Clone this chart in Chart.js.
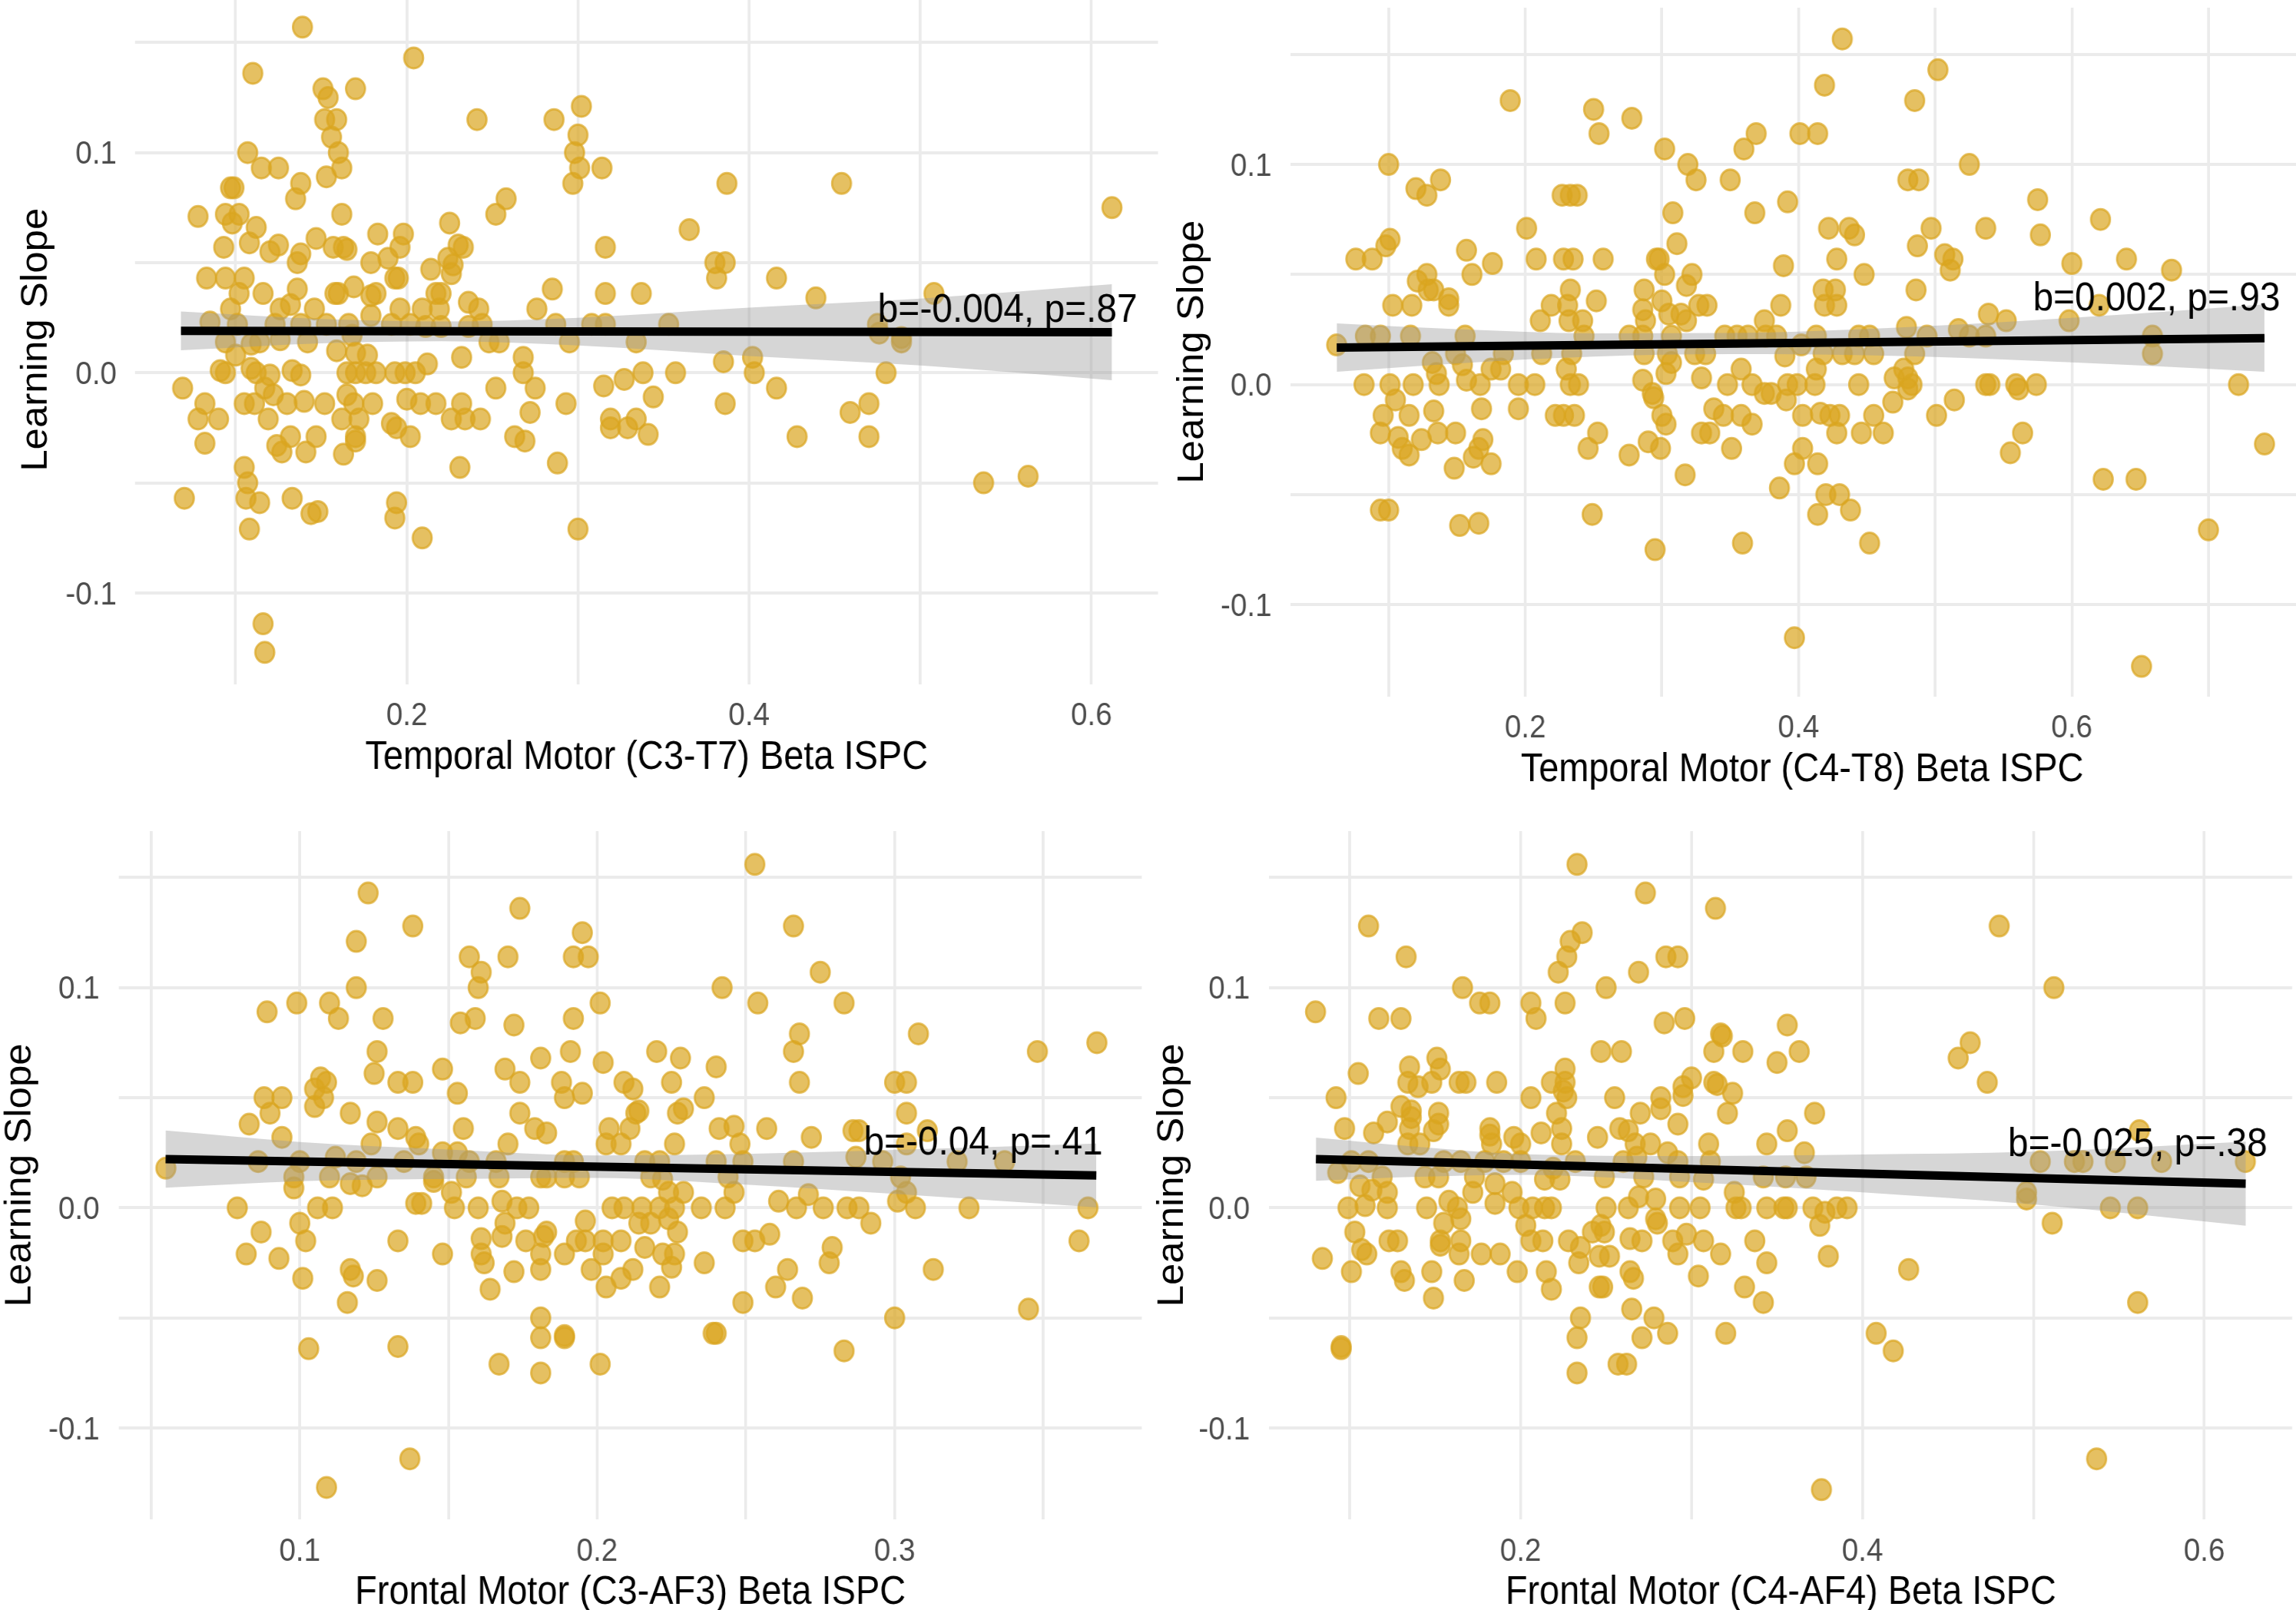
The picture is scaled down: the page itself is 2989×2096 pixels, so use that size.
<!DOCTYPE html>
<html>
<head>
<meta charset="utf-8">
<script src="https://cdn.jsdelivr.net/npm/chart.js@4.4.1/dist/chart.umd.min.js"></script>
<style>
html,body{margin:0;padding:0;background:#fff;overflow:hidden;width:2989px;height:2096px;position:relative;}
canvas{position:absolute;transform-origin:0 0;}
</style>
</head>
<body>
<canvas id="c1"></canvas>
<canvas id="c2"></canvas>
<canvas id="c3"></canvas>
<canvas id="c4"></canvas>
<script>
// ---------------- DATA ----------------
const yTitle = 'Learning Slope';
const xTitles = ['Temporal Motor (C3-T7) Beta ISPC','Temporal Motor (C4-T8) Beta ISPC','Frontal Motor (C3-AF3) Beta ISPC','Frontal Motor (C4-AF4) Beta ISPC'];
const annotTexts = ['b=-0.004, p=.87','b=0.002, p=.93','b=-0.04, p=.41','b=-0.025, p=.38'];
const annotX = [0.551, 0.662, 0.3298, 0.561];
const annotY = [0.029, 0.0395, 0.0298, 0.0291];

const yGrid = [-0.1,-0.05,0,0.05,0.1,0.15];
const yTickVals = [-0.1,0,0.1];
const yTickText = ['-0.1','0.0','0.1'];
const xGrid1 = [0.1,0.2,0.3,0.4,0.5,0.6];
const xGrid2 = [0.1,0.2,0.3,0.4,0.5,0.6,0.7];
const xGrid3 = [0.05,0.1,0.15,0.2,0.25,0.3,0.35];
const xGrid4 = [0.1,0.2,0.3,0.4,0.5,0.6];
const xTickVals124 = [0.2,0.4,0.6];
const xTickText124 = ['0.2','0.4','0.6'];
const xTickVals3 = [0.1,0.2,0.3];
const xTickText3 = ['0.1','0.2','0.3'];

const p1X = [0.139,0.110,0.204,0.151,0.154,0.170,0.152,0.159,0.156,0.160,
0.162,0.153,0.241,0.107,0.115,0.125,0.138,0.135,0.097,0.099,
0.162,0.078,0.094,0.102,0.098,0.112,0.093,0.108,0.120,0.125,
0.136,0.138,0.147,0.157,0.163,0.165,0.183,0.198,0.196,0.179,
0.189,0.225,0.258,0.252,0.233,0.230,0.224,0.227,0.226,0.214,
0.195,0.193,0.083,0.094,0.105,0.102,0.116,0.097,0.136,0.169,
0.158,0.160,0.179,0.182,0.217,0.220,0.236,0.242,0.126,0.132,
0.146,0.179,0.196,0.209,0.219,0.244,0.085,0.101,0.123,0.138,
0.153,0.166,0.191,0.202,0.211,0.220,0.236,0.094,0.109,0.114,
0.126,0.142,0.168,0.248,0.254,0.159,0.170,0.177,0.100,0.232,
0.268,0.212,0.091,0.094,0.109,0.112,0.120,0.133,0.138,0.165,
0.170,0.176,0.182,0.193,0.199,0.205,0.268,0.069,0.252,0.117,
0.122,0.082,0.105,0.111,0.130,0.140,0.152,0.165,0.169,0.180,
0.200,0.208,0.217,0.232,0.078,0.090,0.119,0.162,0.172,0.191,
0.194,0.226,0.234,0.243,0.263,0.269,0.082,0.132,0.147,0.124,
0.127,0.141,0.170,0.170,0.163,0.202,0.231,0.105,0.107,0.106,
0.114,0.133,0.144,0.148,0.070,0.194,0.193,0.108,0.209,0.116,
0.117,0.302,0.286,0.300,0.298,0.301,0.314,0.297,0.387,0.454,
0.612,0.365,0.316,0.380,0.386,0.381,0.416,0.439,0.508,0.285,
0.316,0.337,0.276,0.287,0.308,0.316,0.353,0.295,0.334,0.475,
0.476,0.489,0.489,0.402,0.385,0.403,0.480,0.338,0.357,0.275,
0.315,0.327,0.416,0.272,0.293,0.344,0.386,0.470,0.459,0.319,
0.319,0.334,0.329,0.341,0.288,0.428,0.470,0.537,0.563,0.300];
const p1Y = [0.157,0.136,0.143,0.129,0.125,0.129,0.115,0.115,0.107,0.100,
0.093,0.089,0.115,0.100,0.093,0.093,0.086,0.079,0.084,0.084,
0.072,0.071,0.072,0.072,0.068,0.066,0.057,0.059,0.055,0.058,
0.050,0.054,0.061,0.057,0.057,0.056,0.063,0.063,0.057,0.050,
0.052,0.068,0.079,0.072,0.057,0.058,0.052,0.049,0.045,0.047,
0.043,0.043,0.043,0.043,0.043,0.036,0.036,0.029,0.038,0.039,
0.036,0.036,0.035,0.036,0.036,0.036,0.032,0.029,0.029,0.031,
0.029,0.026,0.029,0.029,0.029,0.022,0.023,0.022,0.022,0.022,
0.022,0.022,0.022,0.022,0.021,0.021,0.021,0.014,0.013,0.014,
0.015,0.014,0.017,0.014,0.014,0.010,0.009,0.008,0.008,0.007,
0.007,0.004,0.001,0,0.002,0,-0.001,0.001,-0.001,0,
0,0,0,0,0,0,0,-0.007,-0.007,-0.007,
-0.010,-0.014,-0.014,-0.014,-0.014,-0.013,-0.014,-0.010,-0.014,-0.014,
-0.012,-0.014,-0.014,-0.014,-0.021,-0.021,-0.021,-0.021,-0.021,-0.023,
-0.025,-0.021,-0.021,-0.021,-0.029,-0.031,-0.032,-0.029,-0.029,-0.033,
-0.036,-0.036,-0.029,-0.031,-0.037,-0.029,-0.043,-0.043,-0.050,-0.057,
-0.059,-0.057,-0.064,-0.063,-0.057,-0.059,-0.066,-0.071,-0.075,-0.114,
-0.127,0.121,0.115,0.108,0.100,0.093,0.093,0.086,0.086,0.086,
0.075,0.065,0.057,0.050,0.050,0.043,0.043,0.034,0.036,0.038,
0.036,0.036,0.029,0.022,0.022,0.022,0.022,0.014,0.014,0.022,
0.018,0.016,0.014,0.007,0.005,0,0,0,0,-0.007,
-0.006,-0.003,-0.007,-0.018,-0.014,-0.011,-0.014,-0.014,-0.018,-0.021,
-0.025,-0.021,-0.025,-0.028,-0.041,-0.029,-0.029,-0.050,-0.047,-0.071];

const p2X = [0.189,0.250,0.254,0.278,0.302,0.319,0.325,0.350,0.360,0.369,
0.368,0.308,0.311,0.100,0.120,0.128,0.138,0.227,0.233,0.238,
0.201,0.076,0.088,0.098,0.101,0.157,0.161,0.176,0.128,0.121,
0.129,0.133,0.144,0.144,0.103,0.117,0.208,0.228,0.235,0.257,
0.296,0.298,0.302,0.322,0.318,0.233,0.252,0.219,0.231,0.211,
0.232,0.242,0.287,0.286,0.288,0.300,0.305,0.314,0.327,0.333,
0.318,0.375,0.062,0.083,0.094,0.116,0.156,0.243,0.276,0.286,
0.307,0.346,0.355,0.363,0.132,0.149,0.154,0.184,0.212,0.234,
0.287,0.304,0.324,0.332,0.307,0.135,0.137,0.175,0.182,0.230,
0.303,0.358,0.329,0.082,0.101,0.118,0.157,0.167,0.195,0.207,
0.233,0.239,0.286,0.348,0.366,0.375,0.105,0.115,0.096,0.133,
0.168,0.195,0.222,0.228,0.236,0.294,0.293,0.300,0.303,0.338,
0.345,0.358,0.366,0.094,0.107,0.124,0.136,0.149,0.110,0.115,
0.169,0.166,0.162,0.175,0.148,0.253,0.246,0.276,0.290,0.299,
0.317,0.329,0.335,0.351,0.094,0.100,0.152,0.166,0.249,0.295,
0.359,0.432,0.419,0.502,0.485,0.401,0.414,0.525,0.480,0.488,
0.392,0.575,0.621,0.422,0.437,0.441,0.497,0.537,0.577,0.487,
0.507,0.513,0.511,0.389,0.428,0.448,0.600,0.640,0.673,0.418,
0.427,0.419,0.428,0.486,0.387,0.539,0.552,0.598,0.620,0.659,
0.659,0.376,0.384,0.402,0.413,0.444,0.452,0.479,0.494,0.517,
0.525,0.537,0.390,0.413,0.418,0.432,0.441,0.455,0.485,0.477,
0.392,0.399,0.412,0.444,0.470,0.480,0.483,0.537,0.540,0.559,
0.561,0.574,0.722,0.380,0.391,0.469,0.480,0.403,0.416,0.423,
0.430,0.428,0.446,0.455,0.462,0.501,0.514,0.564,0.555,0.741,
0.403,0.397,0.414,0.386,0.420,0.430,0.414,0.438,0.452,0.623,
0.647,0.700,0.397,0.651];
const p2Y = [0.129,0.125,0.114,0.121,0.107,0.100,0.093,0.093,0.107,0.114,
0.078,0.078,0.064,0.100,0.089,0.086,0.093,0.086,0.086,0.086,
0.071,0.057,0.057,0.063,0.066,0.061,0.050,0.055,0.050,0.047,
0.043,0.043,0.039,0.036,0.036,0.036,0.057,0.057,0.057,0.057,
0.057,0.057,0.050,0.050,0.045,0.043,0.038,0.036,0.036,0.029,
0.029,0.029,0.043,0.034,0.029,0.038,0.032,0.032,0.036,0.036,
0.029,0.029,0.018,0.022,0.022,0.022,0.022,0.022,0.022,0.022,
0.022,0.022,0.022,0.022,0.010,0.014,0.009,0.014,0.014,0.014,
0.014,0.014,0.014,0.014,0.010,0.005,0,0.007,0.007,0.007,
0.005,0.007,0.003,0,0,0,0.002,0,0,0,
0,0,0.002,0,0,-0.004,-0.007,-0.014,-0.014,-0.012,
-0.011,-0.011,-0.014,-0.014,-0.014,-0.006,-0.004,-0.014,-0.018,-0.011,
-0.014,-0.014,-0.018,-0.022,-0.024,-0.025,-0.022,-0.022,-0.029,-0.032,
-0.025,-0.029,-0.033,-0.036,-0.038,-0.022,-0.029,-0.032,-0.026,-0.029,
-0.041,-0.022,-0.022,-0.029,-0.057,-0.057,-0.064,-0.063,-0.059,-0.075,
-0.072,0.157,0.136,0.143,0.129,0.114,0.114,0.100,0.093,0.093,
0.083,0.084,0.075,0.071,0.071,0.068,0.071,0.071,0.068,0.063,
0.059,0.057,0.052,0.054,0.057,0.050,0.055,0.057,0.052,0.043,
0.043,0.036,0.036,0.043,0.036,0.032,0.029,0.029,0.036,0.022,
0.014,0.022,0.022,0.018,0.022,0.022,0.022,0.026,0.022,0.025,
0.022,0.022,0.013,0.007,0.014,0.014,0.014,0.014,0.014,0.007,
0,0,0,0,0.003,0.003,0,0,0,0,
-0.002,0,0,-0.004,-0.007,-0.008,-0.002,-0.014,-0.013,-0.014,
-0.014,-0.022,-0.022,-0.014,-0.022,-0.014,-0.007,-0.022,-0.031,-0.027,
-0.029,-0.036,-0.036,-0.047,-0.050,-0.050,-0.059,-0.057,-0.072,-0.043,
-0.043,-0.066,-0.115,-0.128];

const p3X = [0.123,0.138,0.174,0.119,0.157,0.161,0.160,0.170,0.119,0.089,
0.099,0.110,0.113,0.128,0.154,0.159,0.172,0.126,0.125,0.181,
0.107,0.109,0.105,0.108,0.105,0.133,0.138,0.148,0.169,0.174,
0.153,0.088,0.094,0.090,0.083,0.094,0.117,0.126,0.133,0.139,
0.140,0.155,0.174,0.179,0.170,0.124,0.055,0.086,0.100,0.112,
0.119,0.135,0.148,0.153,0.157,0.166,0.098,0.098,0.110,0.126,
0.117,0.121,0.145,0.145,0.156,0.167,0.181,0.151,0.079,0.106,
0.111,0.139,0.141,0.152,0.160,0.168,0.173,0.177,0.169,0.168,
0.087,0.100,0.102,0.133,0.161,0.176,0.182,0.082,0.093,0.148,
0.161,0.162,0.181,0.101,0.117,0.118,0.126,0.172,0.164,0.181,
0.116,0.181,0.181,0.103,0.133,0.167,0.181,0.137,0.109,0.253,
0.266,0.195,0.192,0.197,0.275,0.242,0.201,0.254,0.283,0.192,
0.268,0.266,0.308,0.348,0.368,0.191,0.202,0.220,0.228,0.240,
0.225,0.268,0.300,0.304,0.188,0.189,0.195,0.209,0.212,0.236,
0.227,0.229,0.213,0.214,0.304,0.204,0.211,0.183,0.241,0.246,
0.257,0.272,0.286,0.288,0.311,0.203,0.208,0.226,0.248,0.304,
0.189,0.192,0.216,0.221,0.240,0.249,0.266,0.287,0.296,0.321,
0.337,0.183,0.189,0.194,0.218,0.222,0.244,0.302,0.304,0.224,
0.229,0.246,0.271,0.365,0.325,0.205,0.209,0.215,0.221,0.226,
0.235,0.243,0.261,0.267,0.276,0.284,0.288,0.301,0.307,0.214,
0.218,0.224,0.196,0.292,0.362,0.227,0.183,0.193,0.196,0.208,
0.202,0.249,0.253,0.258,0.216,0.189,0.202,0.222,0.226,0.279,
0.278,0.236,0.198,0.212,0.225,0.264,0.313,0.208,0.203,0.221,
0.260,0.249,0.269,0.300,0.345,0.189,0.189,0.239,0.240,0.283,
0.201];
const p3Y = [0.143,0.128,0.136,0.121,0.114,0.107,0.100,0.114,0.100,0.089,
0.093,0.093,0.086,0.086,0.084,0.086,0.083,0.071,0.061,0.068,
0.059,0.057,0.054,0.050,0.046,0.057,0.057,0.063,0.063,0.057,
0.052,0.050,0.050,0.043,0.038,0.032,0.043,0.039,0.036,0.032,
0.029,0.036,0.043,0.036,0.029,0.029,0.018,0.021,0.021,0.023,
0.021,0.021,0.025,0.025,0.021,0.021,0.014,0.009,0.014,0.014,
0.011,0.010,0.014,0.012,0.014,0.014,0.014,0.007,0,0,
0,0.002,0.002,0,0,0.003,0,0,-0.007,-0.013,
-0.011,-0.007,-0.015,-0.015,-0.014,-0.015,-0.013,-0.021,-0.023,-0.021,
-0.021,-0.025,-0.021,-0.032,-0.028,-0.031,-0.033,-0.029,-0.037,-0.028,
-0.043,-0.050,-0.059,-0.064,-0.063,-0.071,-0.075,-0.114,-0.127,0.156,
0.128,0.125,0.114,0.114,0.107,0.100,0.093,0.093,0.093,0.086,
0.079,0.071,0.079,0.071,0.075,0.071,0.066,0.071,0.068,0.064,
0.057,0.057,0.057,0.057,0.057,0.050,0.052,0.057,0.054,0.050,
0.043,0.045,0.043,0.044,0.043,0.036,0.036,0.034,0.036,0.037,
0.036,0.032,0.035,0.035,0.035,0.029,0.029,0.029,0.029,0.029,
0.021,0.021,0.021,0.021,0.021,0.021,0.021,0.023,0.021,0.021,
0.021,0.014,0.014,0.014,0.014,0.013,0.014,0.014,0.007,0.007,
0.007,0.007,0.006,0,0,0,0,0,0,0,
0,0,0.003,0,0,0,0,0.003,0,-0.007,
-0.007,-0.005,-0.006,-0.007,-0.015,-0.011,-0.011,-0.015,-0.015,-0.015,
-0.015,-0.015,-0.015,-0.012,-0.018,-0.021,-0.021,-0.021,-0.021,-0.018,
-0.025,-0.025,-0.028,-0.028,-0.027,-0.028,-0.028,-0.032,-0.036,-0.036,
-0.036,-0.043,-0.041,-0.050,-0.046,-0.058,-0.059,-0.057,-0.057,-0.065,
-0.071];

const p4X = [0.233,0.273,0.314,0.111,0.133,0.229,0.236,0.227,0.222,0.285,
0.292,0.269,0.166,0.176,0.182,0.206,0.209,0.226,0.250,0.080,
0.117,0.130,0.284,0.296,0.317,0.318,0.313,0.330,0.247,0.259,
0.135,0.151,0.153,0.105,0.134,0.140,0.148,0.164,0.168,0.186,
0.218,0.226,0.226,0.225,0.300,0.295,0.295,0.313,0.315,0.324,
0.092,0.206,0.227,0.255,0.282,0.282,0.130,0.136,0.136,0.122,
0.152,0.152,0.149,0.221,0.270,0.321,0.292,0.097,0.114,0.135,
0.182,0.182,0.183,0.196,0.200,0.212,0.224,0.224,0.245,0.258,
0.263,0.267,0.276,0.286,0.310,0.344,0.134,0.141,0.101,0.111,
0.155,0.165,0.179,0.190,0.200,0.219,0.232,0.260,0.268,0.292,
0.311,0.093,0.119,0.144,0.152,0.173,0.214,0.223,0.249,0.272,
0.293,0.307,0.342,0.106,0.113,0.122,0.172,0.185,0.185,0.195,
0.158,0.163,0.165,0.155,0.099,0.109,0.122,0.145,0.199,0.207,
0.214,0.218,0.250,0.263,0.279,0.269,0.293,0.305,0.326,0.329,
0.344,0.279,0.280,0.103,0.203,0.247,0.242,0.249,0.325,0.123,
0.128,0.153,0.153,0.165,0.206,0.213,0.228,0.235,0.264,0.271,
0.289,0.297,0.307,0.337,0.084,0.107,0.110,0.164,0.177,0.188,
0.246,0.252,0.292,0.317,0.344,0.101,0.130,0.132,0.148,0.167,
0.198,0.215,0.218,0.234,0.264,0.266,0.304,0.246,0.248,0.149,
0.331,0.342,0.235,0.233,0.265,0.278,0.271,0.286,0.320,0.095,
0.095,0.257,0.262,0.233,0.480,0.512,0.356,0.363,0.350,0.463,
0.456,0.473,0.372,0.356,0.366,0.355,0.367,0.562,0.504,0.524,
0.529,0.548,0.575,0.624,0.496,0.496,0.354,0.356,0.371,0.378,
0.385,0.391,0.375,0.545,0.561,0.511,0.380,0.427,0.561,0.408,
0.418,0.537,0.376];
const p4Y = [0.156,0.143,0.136,0.128,0.114,0.121,0.125,0.114,0.107,0.114,
0.114,0.107,0.100,0.093,0.093,0.093,0.086,0.093,0.100,0.089,
0.086,0.086,0.084,0.086,0.079,0.078,0.071,0.071,0.071,0.071,
0.064,0.068,0.063,0.061,0.057,0.055,0.057,0.057,0.057,0.057,
0.057,0.063,0.057,0.053,0.059,0.055,0.051,0.057,0.056,0.052,
0.050,0.050,0.050,0.050,0.050,0.045,0.046,0.044,0.041,0.039,
0.043,0.038,0.035,0.043,0.043,0.043,0.038,0.036,0.034,0.036,
0.036,0.033,0.029,0.032,0.029,0.034,0.036,0.029,0.032,0.036,
0.035,0.029,0.029,0.025,0.029,0.029,0.029,0.029,0.021,0.021,
0.021,0.021,0.021,0.021,0.021,0.018,0.021,0.021,0.023,0.021,
0.021,0.016,0.014,0.014,0.014,0.014,0.013,0.013,0.014,0.014,
0.014,0.013,0.014,0.010,0.008,0.007,0.007,0.011,0.002,0.007,
0.003,0,-0.005,-0.007,0,0.001,0,0,0,0,
0,0,0,0,0.004,0.005,0,0,0,0,
0,-0.005,-0.007,-0.011,-0.008,-0.008,-0.011,-0.011,0.007,-0.015,
-0.015,-0.015,-0.017,-0.015,-0.015,-0.015,-0.015,-0.018,-0.014,-0.015,
-0.015,-0.012,-0.015,-0.015,-0.023,-0.019,-0.021,-0.021,-0.021,-0.021,
-0.022,-0.022,-0.021,-0.021,-0.025,-0.029,-0.029,-0.033,-0.029,-0.033,
-0.029,-0.029,-0.037,-0.025,-0.029,-0.032,-0.031,-0.036,-0.036,-0.041,
-0.036,-0.043,-0.050,-0.059,-0.046,-0.050,-0.059,-0.057,-0.057,-0.063,
-0.064,-0.071,-0.071,-0.075,0.128,0.100,0.083,0.071,0.066,0.075,
0.068,0.057,0.043,0.035,0.025,0.014,0.014,0.035,0.021,0.021,
0.021,0.021,0.021,0.021,0.007,0.004,0,0,0,-0.002,
0,0,-0.008,0,0,-0.007,-0.022,-0.028,-0.043,-0.057,
-0.065,-0.114,-0.128];

// regression lines and confidence bands
const fit1X = [0.068, 0.612], fit1Y = [0.0190, 0.0184];
const band1X = [0.068,0.15,0.22,0.3,0.4,0.5,0.612];
const band1Hi = [0.0278,0.0244,0.0233,0.0250,0.0296,0.0337,0.0402];
const band1Lo = [0.0102,0.0134,0.0143,0.0124,0.0076,0.0033,-0.0034];

const fit2X = [0.062, 0.741], fit2Y = [0.0168, 0.0211];
const band2X = [0.062,0.15,0.25,0.35,0.45,0.55,0.65,0.741];
const band2Hi = [0.0278,0.0252,0.0233,0.0234,0.0253,0.0284,0.0323,0.0364];
const band2Lo = [0.0058,0.0096,0.0127,0.0138,0.0133,0.0114,0.0087,0.0058];

const fit3X = [0.0549, 0.3678], fit3Y = [0.0221, 0.0147];
const band3X = [0.0549,0.1,0.15,0.2,0.25,0.3,0.3678];
const band3Hi = [0.0351,0.0299,0.0265,0.0238,0.0245,0.0263,0.0292];
const band3Lo = [0.0091,0.0121,0.0131,0.0136,0.0105,0.0063,0.0002];

const fit4X = [0.0802, 0.6242], fit4Y = [0.0221, 0.0110];
const band4X = [0.0802,0.14,0.2,0.3,0.4,0.5,0.6242];
const band4Hi = [0.0319,0.0277,0.0244,0.0235,0.0242,0.0255,0.0301];
const band4Lo = [0.0123,0.0141,0.0150,0.0117,0.0070,0.0015,-0.0081];

// ---------------- RENDER ----------------
const S = 0.92;  // horizontal condensation of the reference rendering
const FONT = "'Liberation Sans', Arial, Helvetica, sans-serif";
const GRID = '#EBEBEB';
const TICK = 42, TITLE = 51, ANN = 52;

function labelFor(v, vals, texts) {
  for (let i = 0; i < vals.length; i++) if (Math.abs(vals[i] - v) < 1e-9) return texts[i];
  return '';
}
function pts(xs, ys) { return xs.map((x, i) => ({x: x, y: ys[i]})); }
function noPad(sc) { sc.paddingTop = 0; sc.paddingBottom = 0; sc.paddingLeft = 0; sc.paddingRight = 0; }

const annotPlugin = {
  id: 'annot',
  afterDatasetsDraw(chart, args, o) {
    const ctx = chart.ctx, sx = chart.scales.x, sy = chart.scales.y;
    ctx.save();
    ctx.font = o.size + 'px ' + FONT;
    ctx.fillStyle = '#000';
    ctx.textAlign = 'center';
    ctx.textBaseline = 'middle';
    ctx.fillText(o.text, sx.getPixelForValue(o.x), sy.getPixelForValue(o.y) + 2);
    ctx.restore();
  }
};

function makePanel(id, g, d) {
  const cv = document.getElementById(id);
  const W = Math.ceil((g.canvasRight - g.L) / S);
  const H = Math.ceil(g.xTitleCY - g.plotTop + 40);
  cv.width = W; cv.height = H;
  cv.style.left = g.L + 'px';
  cv.style.top = g.plotTop + 'px';
  cv.style.width = W + 'px';
  cv.style.height = H + 'px';
  cv.style.transform = 'scaleX(' + S + ')';
  const yW = (g.plotLeft - g.L) / S;
  const padRight = W - (g.plotRight - g.L) / S;
  const xH = H - (g.plotBottom - g.plotTop);

  new Chart(cv, {
    type: 'scatter',
    data: {
      datasets: [
        {type: 'scatter', data: pts(d.x, d.y), backgroundColor: 'rgba(218,165,32,0.7)',
         borderColor: 'rgba(218,165,32,0.7)', borderWidth: 3, pointRadius: 13.5, pointHoverRadius: 13.5, order: 3},
        {type: 'line', data: pts(d.bandX, d.bandHi), borderColor: 'rgba(0,0,0,0)', borderWidth: 0, pointRadius: 0,
         fill: '+1', backgroundColor: 'rgba(153,153,153,0.4)', cubicInterpolationMode: 'monotone', order: 2},
        {type: 'line', data: pts(d.bandX, d.bandLo), borderColor: 'rgba(0,0,0,0)', borderWidth: 0, pointRadius: 0,
         fill: false, cubicInterpolationMode: 'monotone', order: 2},
        {type: 'line', data: pts(d.fitX, d.fitY), borderColor: '#000', borderWidth: 11, pointRadius: 0,
         fill: false, borderCapStyle: 'butt', order: 1}
      ]
    },
    options: {
      responsive: false, animation: false, devicePixelRatio: 1, events: [],
      layout: {autoPadding: false, padding: {left: 0, top: 0, right: padRight, bottom: 0}},
      plugins: {legend: {display: false}, tooltip: {enabled: false},
        annot: {text: d.ann, x: d.annX, y: d.annY, size: ANN}},
      scales: {
        x: {
          type: 'linear', min: g.xMin, max: g.xMax,
          afterBuildTicks: ax => { ax.ticks = d.xGrid.map(v => ({value: v})); },
          afterFit: sc => { sc.height = xH; noPad(sc); },
          grid: {color: GRID, lineWidth: 4, drawTicks: false},
          border: {display: false},
          ticks: {autoSkip: false, maxRotation: 0, color: '#4D4D4D',
            padding: g.xTickCY - g.plotBottom - TICK * 1.2 / 2,
            font: {family: FONT, size: TICK},
            callback: v => labelFor(v, d.xTickVals, d.xTickText)},
          title: {display: true, text: d.xTitle, color: '#000', font: {family: FONT, size: TITLE},
            padding: {top: 0, bottom: H - (g.xTitleCY - g.plotTop) - TITLE * 1.2 / 2}}
        },
        y: {
          type: 'linear', min: g.yMin, max: g.yMax,
          afterBuildTicks: ax => { ax.ticks = yGrid.map(v => ({value: v})); },
          afterFit: sc => { sc.width = yW; noPad(sc); },
          grid: {color: GRID, lineWidth: 4, drawTicks: false},
          border: {display: false},
          ticks: {autoSkip: false, color: '#4D4D4D', labelOffset: 3,
            padding: (g.plotLeft - g.yTickRight) / S,
            font: {family: FONT, size: TICK},
            callback: v => labelFor(v, yTickVals, yTickText)},
          title: {display: true, text: yTitle, color: '#000', font: {family: FONT, size: TITLE},
            padding: {top: (g.yTitleCX - g.L) / S - TITLE * 1.2 / 2, bottom: 0}}
        }
      }
    },
    plugins: [annotPlugin]
  });
}

makePanel('c1',
  {L: 0, canvasRight: 1512, plotLeft: 175.8, plotRight: 1507.5, plotTop: -6.3, plotBottom: 890.3,
   yTitleCX: 47.6, yTickRight: 152, xTickCY: 932, xTitleCY: 987,
   xMin: 0.0412, xMax: 0.6389, yMin: -0.1414, yMax: 0.1714},
  {x: p1X, y: p1Y, fitX: fit1X, fitY: fit1Y, bandX: band1X, bandHi: band1Hi, bandLo: band1Lo,
   xGrid: xGrid1, xTickVals: xTickVals124, xTickText: xTickText124, xTitle: xTitles[0],
   ann: annotTexts[0], annX: annotX[0], annY: annotY[0]});

makePanel('c2',
  {L: 1520, canvasRight: 3016, plotLeft: 1680, plotRight: 3012, plotTop: 9.9, plotBottom: 906.4,
   yTitleCX: 1553, yTickRight: 1655.6, xTickCY: 948, xTitleCY: 1003,
   xMin: 0.0282, xMax: 0.777, yMin: -0.1416, yMax: 0.1712},
  {x: p2X, y: p2Y, fitX: fit2X, fitY: fit2Y, bandX: band2X, bandHi: band2Hi, bandLo: band2Lo,
   xGrid: xGrid2, xTickVals: xTickVals124, xTickText: xTickText124, xTitle: xTitles[1],
   ann: annotTexts[1], annX: annotX[1], annY: annotY[1]});

makePanel('c3',
  {L: 0, canvasRight: 1490, plotLeft: 154.8, plotRight: 1486.4, plotTop: 1082, plotBottom: 1977.7,
   yTitleCX: 27, yTickRight: 129.6, xTickCY: 2020, xTitleCY: 2074,
   xMin: 0.0392, xMax: 0.3831, yMin: -0.1414, yMax: 0.1711},
  {x: p3X, y: p3Y, fitX: fit3X, fitY: fit3Y, bandX: band3X, bandHi: band3Hi, bandLo: band3Lo,
   xGrid: xGrid3, xTickVals: xTickVals3, xTickText: xTickText3, xTitle: xTitles[2],
   ann: annotTexts[2], annX: annotX[2], annY: annotY[2]});

makePanel('c4',
  {L: 1492, canvasRight: 2989, plotLeft: 1652.5, plotRight: 2984, plotTop: 1082, plotBottom: 1977.7,
   yTitleCX: 1527, yTickRight: 1627, xTickCY: 2020, xTitleCY: 2074,
   xMin: 0.053, xMax: 0.6514, yMin: -0.1414, yMax: 0.1711},
  {x: p4X, y: p4Y, fitX: fit4X, fitY: fit4Y, bandX: band4X, bandHi: band4Hi, bandLo: band4Lo,
   xGrid: xGrid4, xTickVals: xTickVals124, xTickText: xTickText124, xTitle: xTitles[3],
   ann: annotTexts[3], annX: annotX[3], annY: annotY[3]});
</script>
</body>
</html>
